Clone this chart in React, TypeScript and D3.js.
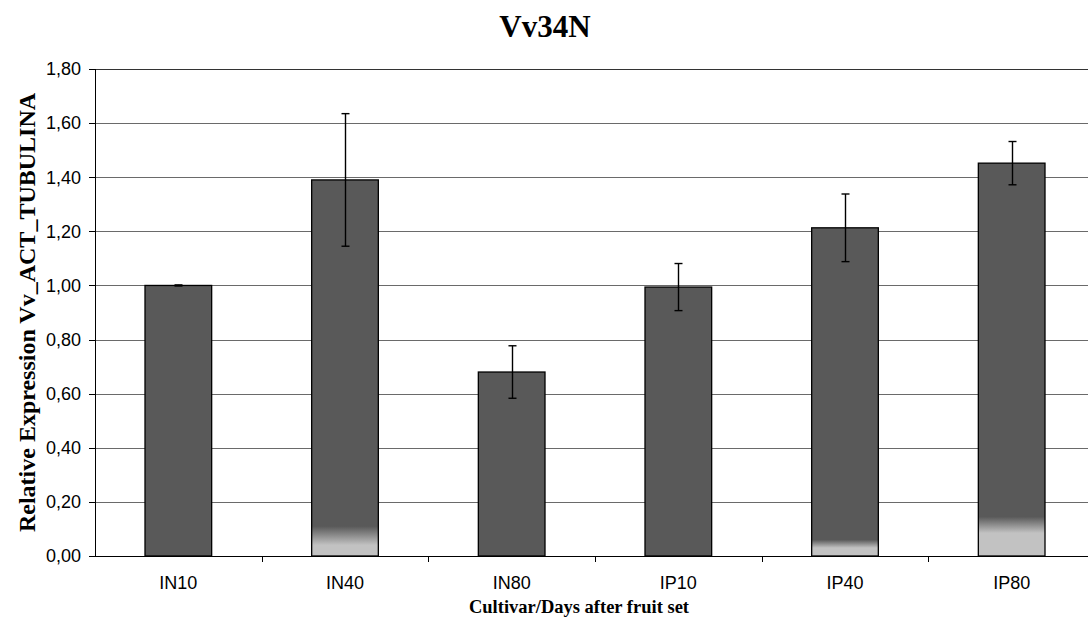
import React from "react";
import * as d3 from "d3";

const categories = ["IN10", "IN40", "IN80", "IP10", "IP40", "IP80"];
const values = [1.0, 1.39, 0.68, 0.994, 1.213, 1.452];
const errors = [0.002, 0.245, 0.097, 0.087, 0.125, 0.08];
const yTicks = [0, 0.2, 0.4, 0.6, 0.8, 1.0, 1.2, 1.4, 1.6, 1.8];
// bottom light fade of some bars (in value units: [fadeStart, fadeEnd])
const fades: ([number, number] | null)[] = [null, [0.11, 0.04], null, null, [0.06, 0.03], [0.145, 0.085]];

const W = 1088, H = 628;
const left = 95, right = 1095, top = 69, bottom = 556;

export default function App() {
  const x = d3.scaleBand<string>().domain(categories).range([left, right]).paddingInner(0).paddingOuter(0);
  const y = d3.scaleLinear().domain([0, 1.8]).range([bottom, top]);
  const bw = x.bandwidth() * 0.4;
  const fmt = (v: number) => v.toFixed(2).replace(".", ",");
  const dark = "#595959";
  const light = "#c2c2c2";
  return (
    <svg width={W} height={H} style={{ position: "absolute", left: 0, top: 0, background: "#fff" }}>
      <defs>
        {categories.map((c, i) => {
          const f = fades[i];
          if (!f) return null;
          const v = values[i];
          const s1 = 1 - f[0] / v;
          const s2 = 1 - f[1] / v;
          return (
            <linearGradient key={c} id={`g${i}`} x1="0" y1="0" x2="0" y2="1">
              <stop offset="0" stopColor={dark} />
              <stop offset={s1} stopColor={dark} />
              <stop offset={s2} stopColor={light} />
              <stop offset="1" stopColor={light} />
            </linearGradient>
          );
        })}
      </defs>
      {yTicks.map((t) => (
        <g key={t}>
          {t > 0 && (
            <line x1={left} x2={right} y1={Math.round(y(t)) + 0.5} y2={Math.round(y(t)) + 0.5} stroke={t === 1.8 ? "#333" : "#6a6a6a"} strokeWidth={1} />
          )}
          <line x1={left - 6} x2={left} y1={Math.round(y(t)) + 0.5} y2={Math.round(y(t)) + 0.5} stroke="#000" />
          <text x={81} y={y(t)} dy="0.35em" textAnchor="end" fontFamily="Liberation Sans, Arial, sans-serif" fontSize={18}>
            {fmt(t)}
          </text>
        </g>
      ))}
      {categories.map((c, i) => {
        const cx = x(c)! + x.bandwidth() / 2;
        return (
          <g key={c}>
            <rect
              x={cx - bw / 2}
              y={y(values[i])}
              width={bw}
              height={bottom - y(values[i])}
              fill={fades[i] ? `url(#g${i})` : dark}
              stroke="#000"
              strokeWidth={1.3}
            />
          </g>
        );
      })}
      <line x1={left + 0.5} x2={left + 0.5} y1={top} y2={bottom} stroke="#000" />
      <line x1={left} x2={right} y1={bottom + 0.5} y2={bottom + 0.5} stroke="#000" />
      {categories.map((c) => (
        <line key={c} x1={Math.round(x(c)! + x.bandwidth()) + 0.5} x2={Math.round(x(c)! + x.bandwidth()) + 0.5} y1={bottom} y2={bottom + 6} stroke="#000" />
      ))}
      {categories.map((c, i) => {
        const cx = Math.round(x(c)! + x.bandwidth() / 2) + 0.5;
        const hi = y(values[i] + errors[i]);
        const lo = y(values[i] - errors[i]);
        return (
          <g key={c}>
            <line x1={cx} x2={cx} y1={hi} y2={lo} stroke="#000" strokeWidth={1.4} />
            <line x1={cx - 4} x2={cx + 4} y1={hi} y2={hi} stroke="#000" strokeWidth={1.4} />
            <line x1={cx - 4} x2={cx + 4} y1={lo} y2={lo} stroke="#000" strokeWidth={1.4} />
            <text x={x(c)! + x.bandwidth() / 2} y={589} textAnchor="middle" fontFamily="Liberation Sans, Arial, sans-serif" fontSize={18}>
              {c}
            </text>
          </g>
        );
      })}
      <text x={545} y={37} textAnchor="middle" fontFamily="Liberation Serif, Times New Roman, serif" fontWeight="bold" fontSize={31}>
        Vv34N
      </text>
      <text x={579} y={613} textAnchor="middle" fontFamily="Liberation Serif, Times New Roman, serif" fontWeight="bold" fontSize={18.5}>
        Cultivar/Days after fruit set
      </text>
      <text
        transform={`translate(35,${(top + bottom) / 2}) rotate(-90)`}
        textAnchor="middle"
        fontFamily="Liberation Serif, Times New Roman, serif"
        fontWeight="bold"
        fontSize={24}
      >
        Relative Expression Vv_ACT_TUBULINA
      </text>
    </svg>
  );
}
